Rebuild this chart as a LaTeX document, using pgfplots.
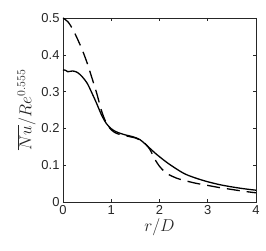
\documentclass[border=0pt]{standalone}
\usepackage{fontspec}
\setmainfont{Liberation Sans}
\usepackage{pgfplots}
\pgfplotsset{compat=1.18}
\begin{document}
\begin{tikzpicture}
\definecolor{axgray}{gray}{0.15}
\begin{axis}[
  scale only axis,
  width=193bp, height=184bp,
  xmin=0, xmax=4, ymin=0, ymax=0.5,
  xtick={0,1,2,3,4}, ytick={0,0.1,0.2,0.3,0.4,0.5},
  yticklabel style={/pgf/number format/fixed, /pgf/number format/precision=1},
  /pgf/number format/assume math mode=true,
  tick align=inside,
  major tick length=3bp,
  axis line style={axgray, line width=0.6pt},
  every tick/.style={axgray, line width=0.5pt},
  tick label style={font=\fontsize{13}{15}\selectfont, text=axgray},
  label style={font=\fontsize{18.5}{20}\selectfont, text=axgray},
  xlabel={$r/D$},
  ylabel={$\overline{Nu}/Re^{0.555}$},
  xlabel style={yshift=3bp},
  ylabel style={yshift=-1bp},
  clip=true,
]
\addplot[black, line width=1.3pt, smooth] coordinates {
(0,0.359) (0.05,0.358) (0.1,0.354) (0.2,0.356) (0.3,0.352) (0.4,0.340) (0.5,0.323)
(0.6,0.296) (0.7,0.267) (0.8,0.236) (0.9,0.213) (1.0,0.199) (1.1,0.191)
(1.2,0.186) (1.3,0.182) (1.4,0.179) (1.5,0.175) (1.6,0.169) (1.7,0.158)
(1.8,0.146) (1.9,0.134) (2.0,0.123) (2.2,0.103) (2.5,0.078) (2.75,0.065)
(3.0,0.055) (3.25,0.047) (3.5,0.041) (3.75,0.036) (4.0,0.032)
};
\addplot[black, line width=1.3pt, dash pattern=on 13bp off 7bp, smooth] coordinates {
(0,0.500) (0.1,0.490) (0.2,0.470) (0.3,0.443) (0.4,0.413) (0.5,0.378)
(0.6,0.337) (0.7,0.295) (0.8,0.247) (0.9,0.214) (1.0,0.196) (1.1,0.187)
(1.2,0.183) (1.3,0.180) (1.4,0.177) (1.5,0.174) (1.6,0.168) (1.7,0.159)
(1.8,0.143) (1.9,0.117) (2.0,0.097) (2.1,0.083) (2.2,0.074) (2.35,0.065)
(2.5,0.059) (2.75,0.051) (3.0,0.045) (3.25,0.039) (3.5,0.034) (3.75,0.029) (4.0,0.025)
};
\end{axis}
\path (current axis.south west) +(-63bp,-49bp) coordinate (bl);
\path (current axis.north east) +(10bp,18bp) coordinate (tr);
\path (bl) rectangle (tr);
\end{tikzpicture}
\end{document}
